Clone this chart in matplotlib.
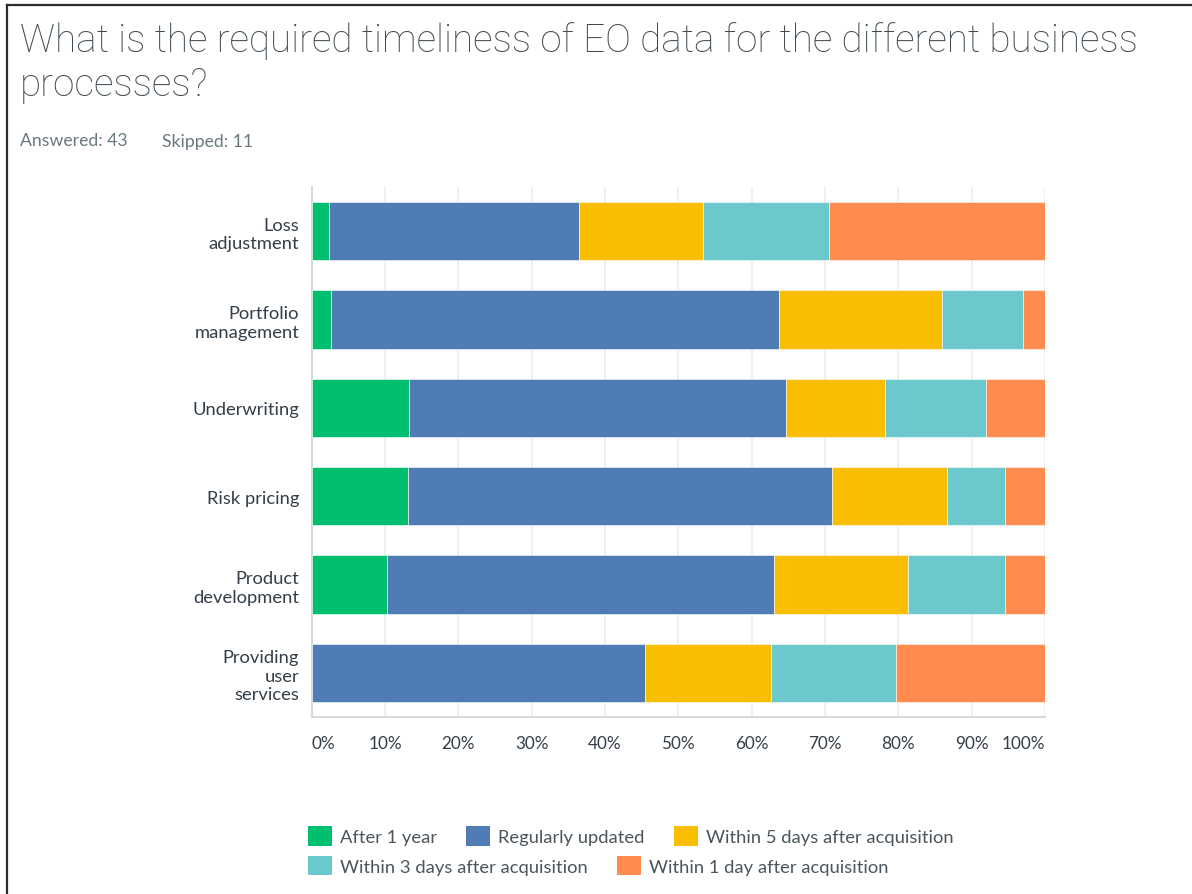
import numpy as np
import matplotlib.pyplot as plt
from matplotlib.lines import Line2D
from matplotlib.patches import Patch

# данные (проценты)
processes = ["Loss\nadjustment", "Portfolio\nmanagement", "Underwriting",
             "Risk pricing", "Product\ndevelopment", "Providing\nuser\nservices"]
answers = ["After 1 year", "Regularly updated", "Within 5 days after acquisition",
           "Within 3 days after acquisition", "Within 1 day after acquisition"]
after_1_year = [2.3, 2.7, 13.3, 13.1, 10.3, 0.0]
regularly_updated = [34.1, 61.0, 51.4, 57.8, 52.7, 45.5]
within_5_days = [17.0, 22.3, 13.5, 15.7, 18.3, 17.1]
within_3_days = [17.1, 11.0, 13.7, 8.0, 13.2, 17.1]
within_1_day = [29.5, 3.0, 8.1, 5.4, 5.5, 20.3]
x_ticks = [0, 10, 20, 30, 40, 50, 60, 70, 80, 90, 100]
x_labels = ["0%", "10%", "20%", "30%", "40%", "50%", "60%", "70%", "80%", "90%", "100%"]

colors = ["#00bf6f", "#507cb6", "#f9be00", "#6bc8cd", "#ff8b4f"]
text_color = "#333e48"
label_font = "Lato"

W, H = 1192, 895
fig = plt.figure(figsize=(W / 100, H / 100), dpi=100)

# рамка слева и сверху
fig.add_artist(Line2D([7 / W, 7 / W], [0, 1 - 6 / H], color="#2b2b2b", lw=1.6))
fig.add_artist(Line2D([7 / W, 1], [1 - 6 / H, 1 - 6 / H], color="#2b2b2b", lw=1.6))

# заголовок (две строки)
title_kw = dict(family="Roboto", weight="light", fontsize=27.8, color="#3f4a52",
                va="baseline", ha="left")
fig.text(20 / W, 1 - 52 / H,
         "What is the required timeliness of EO data for the different business", **title_kw)
fig.text(20 / W, 1 - 96 / H, "processes?", **title_kw)

fig.text(20 / W, 1 - 146.5 / H, "Answered: 43", family=label_font, fontsize=12.7,
         color="#6b787f", va="baseline")
fig.text(162 / W, 1 - 146.5 / H, "Skipped: 11", family=label_font, fontsize=12.7,
         color="#6b787f", va="baseline")

ax = fig.add_axes([311.7 / W, 1 - 718 / H, 733.3 / W, 530 / H])

series = [after_1_year, regularly_updated, within_5_days, within_3_days, within_1_day]
y = np.arange(len(processes))
left = np.zeros(len(processes))
for vals, col, name in zip(series, colors, answers):
    ax.barh(y, vals, left=left, height=0.662, color=col, edgecolor="white",
            linewidth=0.4, label=name, zorder=3)
    left += np.array(vals)

ax.set_xlim(0, 100)
ax.set_ylim(len(processes) - 0.5, -0.5)

ax.set_yticks(y, processes, family=label_font, fontsize=13.2, color=text_color)
ax.set_xticks(x_ticks, x_labels, family=label_font, fontsize=12.3, color=text_color)
ax.tick_params(axis="y", length=0, pad=9)
ax.tick_params(axis="x", length=0, pad=13)
lbls = ax.get_xticklabels()
lbls[0].set_ha("left")
lbls[-1].set_ha("right")

ax.grid(axis="x", color="#ececec", lw=1.2, zorder=0)
for s in ["top", "right"]:
    ax.spines[s].set_visible(False)
for s in ["left", "bottom"]:
    ax.spines[s].set_color("#d9d9d9")
    ax.spines[s].set_linewidth(1.5)

# легенда в две строки
handles = [Patch(facecolor=c, edgecolor="none") for c in colors]
leg_kw = dict(frameon=False, loc="center left", handlelength=1.3,
              handleheight=1.3, handletextpad=0.45, columnspacing=1.6,
              borderpad=0, borderaxespad=0, bbox_transform=fig.transFigure,
              prop={"family": label_font, "size": 13.2})
leg1 = fig.legend(handles[:3], answers[:3], ncol=3,
                  bbox_to_anchor=(308 / W, 1 - 837 / H), **leg_kw)
leg2 = fig.legend(handles[3:], answers[3:], ncol=2,
                  bbox_to_anchor=(308 / W, 1 - 866.5 / H), **leg_kw)
for leg in (leg1, leg2):
    for t in leg.get_texts():
        t.set_color("#4b555c")

plt.savefig("out.png", dpi=100)
plt.close()
